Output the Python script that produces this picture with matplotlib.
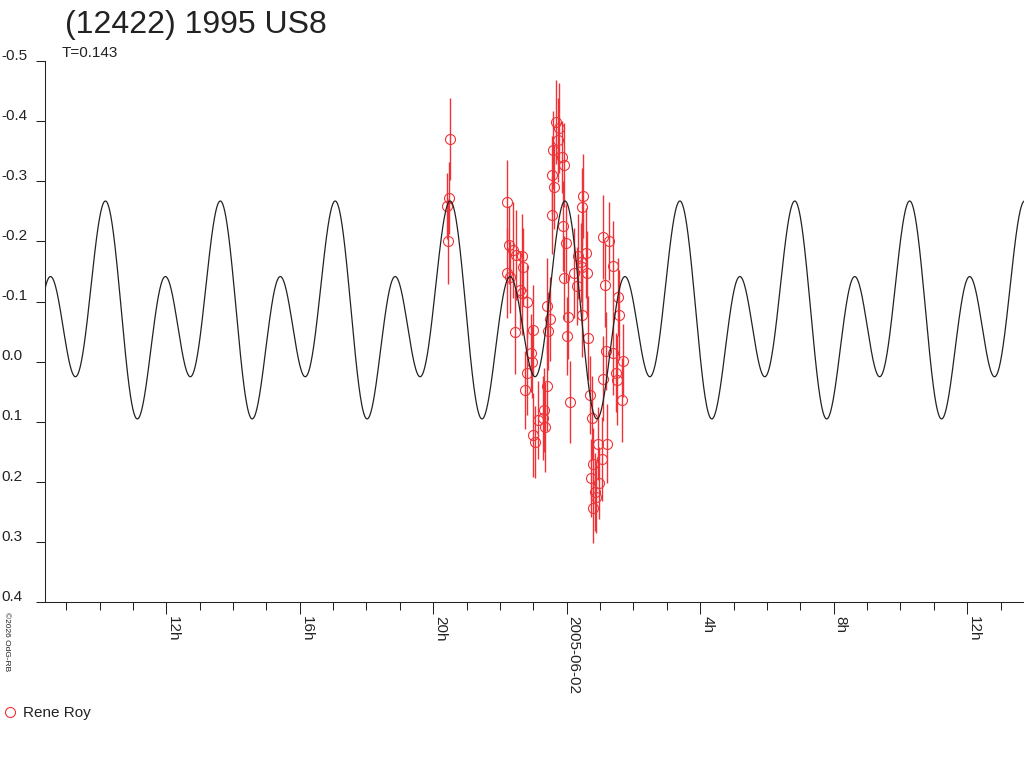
import matplotlib
matplotlib.use("Agg")
import matplotlib.pyplot as plt
import matplotlib.transforms as mtransforms
import numpy as np

plt.rcParams['font.family'] = ['Liberation Sans', 'DejaVu Sans']

TITLE = "(12422) 1995 US8"
SUBTITLE = "T=0.143"
OBSERVER = "Rene Roy"
CREDIT = "\u00a92026 OdG-RB"
RED = '#ee3338'

# observation times, hours from 2005-06-02 00:00
obs_hours = [-3.488, -3.518, -3.596, -3.548,
             -1.798, -1.729, -1.780, -1.699, -1.600, -1.349, -1.319, -1.519,
             -1.331, -1.199, -1.399, -1.549, -1.001, -1.070, -1.049, -1.199,
             -1.250, -0.599, -0.500, -0.569, -0.599, -0.671, -0.851, -0.650,
             -1.001, -0.950, -0.701,
             -0.450, -0.330, -0.231, -0.402, -0.252, -0.150, -0.081, -0.450,
             -0.372, -0.120, -0.021, -0.081, 0.048, 0.018, 0.099, 0.228,
             0.348, 0.450, 0.300, 0.450, 0.479, 0.450, 0.578, 0.617, 0.420,
             1.097, 1.277, 1.378, 1.148, 1.546, 1.576, 0.647, 1.178, 1.396,
             1.678, 1.079, 1.477, 1.516, 1.648, 0.698, 0.767, 0.947, 1.217,
             1.049, 0.797, 0.719, 0.977, 0.848, 0.797, 0.878]
obs_mag = [-0.370, -0.272, -0.259, -0.200,
           -0.266, -0.194, -0.148, -0.141, -0.186, -0.175, -0.157, -0.177,
           -0.114, -0.100, -0.119, -0.050, -0.053, -0.014, 0.000, 0.018,
           0.047, -0.093, -0.071, -0.051, 0.040, 0.080, 0.097, 0.108,
           0.122, 0.133, 0.094,
           -0.244, -0.399, -0.388, -0.352, -0.369, -0.341, -0.327, -0.310,
           -0.291, -0.226, -0.198, -0.139, -0.075, -0.043, 0.067, -0.147,
           -0.175, -0.158, -0.126, -0.078, -0.276, -0.257, -0.181, -0.147, -0.165,
           -0.207, -0.201, -0.159, -0.128, -0.107, -0.078, -0.040, -0.018, -0.014,
           -0.002, 0.028, 0.018, 0.030, 0.063, 0.055, 0.094, 0.136, 0.136,
           0.162, 0.170, 0.193, 0.202, 0.216, 0.244, 0.225]
obs_err = [0.068, 0.060, 0.055, 0.070,
           0.070, 0.065, 0.075, 0.060, 0.080, 0.070, 0.065, 0.075,
           0.070, 0.060, 0.065, 0.070, 0.075, 0.065, 0.060, 0.070,
           0.065, 0.080, 0.070, 0.065, 0.075, 0.070, 0.065, 0.075,
           0.070, 0.060, 0.070,
           0.065, 0.070, 0.075, 0.065, 0.070, 0.060, 0.070, 0.065,
           0.070, 0.075, 0.065, 0.070, 0.070, 0.065, 0.068, 0.075,
           0.070, 0.080, 0.065, 0.070, 0.070, 0.065, 0.075, 0.070, 0.065,
           0.070, 0.065, 0.075, 0.070, 0.065, 0.075, 0.070, 0.065, 0.070,
           0.060, 0.070, 0.065, 0.075, 0.070, 0.065, 0.070, 0.060, 0.065,
           0.070, 0.060, 0.065, 0.060, 0.065, 0.057, 0.060]

# fitted lightcurve (2 harmonics)
PERIOD_H = 3.443
EPOCH_H = -13.815
MEAN_MAG = -0.0735
HARM_AMP = [0.0722, 0.1297]
HARM_PHASE_DEG = [26.7, -5.2]

X_MIN, X_MAX = -15.634, 13.704
Y_TOP, Y_BOTTOM = -0.5, 0.4
major_hours = [-12, -8, -4, 0, 4, 8, 12]
major_labels = ['12h', '16h', '20h', '2005-06-02', '4h', '8h', '12h']
y_ticks = [-0.5, -0.4, -0.3, -0.2, -0.1, 0.0, 0.1, 0.2, 0.3, 0.4]

W, H = 1024, 768
fig = plt.figure(figsize=(W / 100, H / 100), dpi=100)
ax = fig.add_axes([45 / W, 1 - 602.3 / H, 979 / W, (602.3 - 61) / H])

t = np.linspace(X_MIN, X_MAX, 3000)
theta = 2 * np.pi * (t - EPOCH_H) / PERIOD_H
model = np.full_like(t, MEAN_MAG)
for k, (a, ph) in enumerate(zip(HARM_AMP, HARM_PHASE_DEG), start=1):
    model -= a * np.cos(k * theta + np.radians(ph))

ax.errorbar(obs_hours, obs_mag, yerr=obs_err, fmt='o', ms=7.2, mfc='none',
            mec=RED, mew=0.8, ecolor=RED, elinewidth=1.0, capsize=0, zorder=2)
ax.plot(t, model, color='#222222', lw=0.9, zorder=3)

ax.set_xlim(X_MIN, X_MAX)
ax.set_ylim(Y_BOTTOM, Y_TOP)

for s in ['top', 'right']:
    ax.spines[s].set_visible(False)
for s in ['left', 'bottom']:
    ax.spines[s].set_linewidth(0.75)
    ax.spines[s].set_color('#222222')

ax.set_xticks(major_hours)
ax.set_xticklabels(major_labels, rotation=270, ha='left', va='top')
ax.set_xticks([h for h in range(-15, 14) if h not in major_hours], minor=True)
ax.tick_params(axis='x', which='major', direction='out', length=8.6, width=0.75,
               pad=1, labelsize=11, colors='#222222')
ax.tick_params(axis='x', which='minor', direction='out', length=5.8, width=0.75,
               colors='#222222')

ax.set_yticks(y_ticks)
ax.tick_params(axis='y', direction='out', length=6.5, width=0.75,
               labelleft=False, colors='#222222')
trans = mtransforms.blended_transform_factory(fig.transFigure, ax.transData)
trans = trans + mtransforms.ScaledTranslation(0, 1.5 / 100, fig.dpi_scale_trans)
for v in y_ticks:
    lab = '0.0' if abs(v) < 1e-9 else f'{v:.1f}'
    ax.text(1 / W, v, lab, transform=trans, ha='left', va='baseline',
            fontsize=11, color='#222222', clip_on=False)

fig.text(65 / W, 1 - 10 / H, TITLE, fontsize=23, ha='left', va='top', color='#222222')
fig.text(62 / W, 1 - 46 / H, SUBTITLE, fontsize=11, ha='left', va='top', color='#222222')
fig.text(6 / W, 1 - 612 / H, CREDIT, fontsize=6, rotation=270, ha='center', va='top',
         color='#222222')

legend_marker = plt.Line2D([], [], ls='none', marker='o', ms=7.2,
                           mfc='none', mec=RED, mew=0.8)
fig.legend([legend_marker], [OBSERVER], loc='center left',
           bbox_to_anchor=(3 / W, 1 - 713 / H),
           frameon=False, handlelength=0.9, handletextpad=0.4, borderaxespad=0,
           borderpad=0, fontsize=11, labelcolor='#222222')

fig.savefig('out.png', dpi=100)
